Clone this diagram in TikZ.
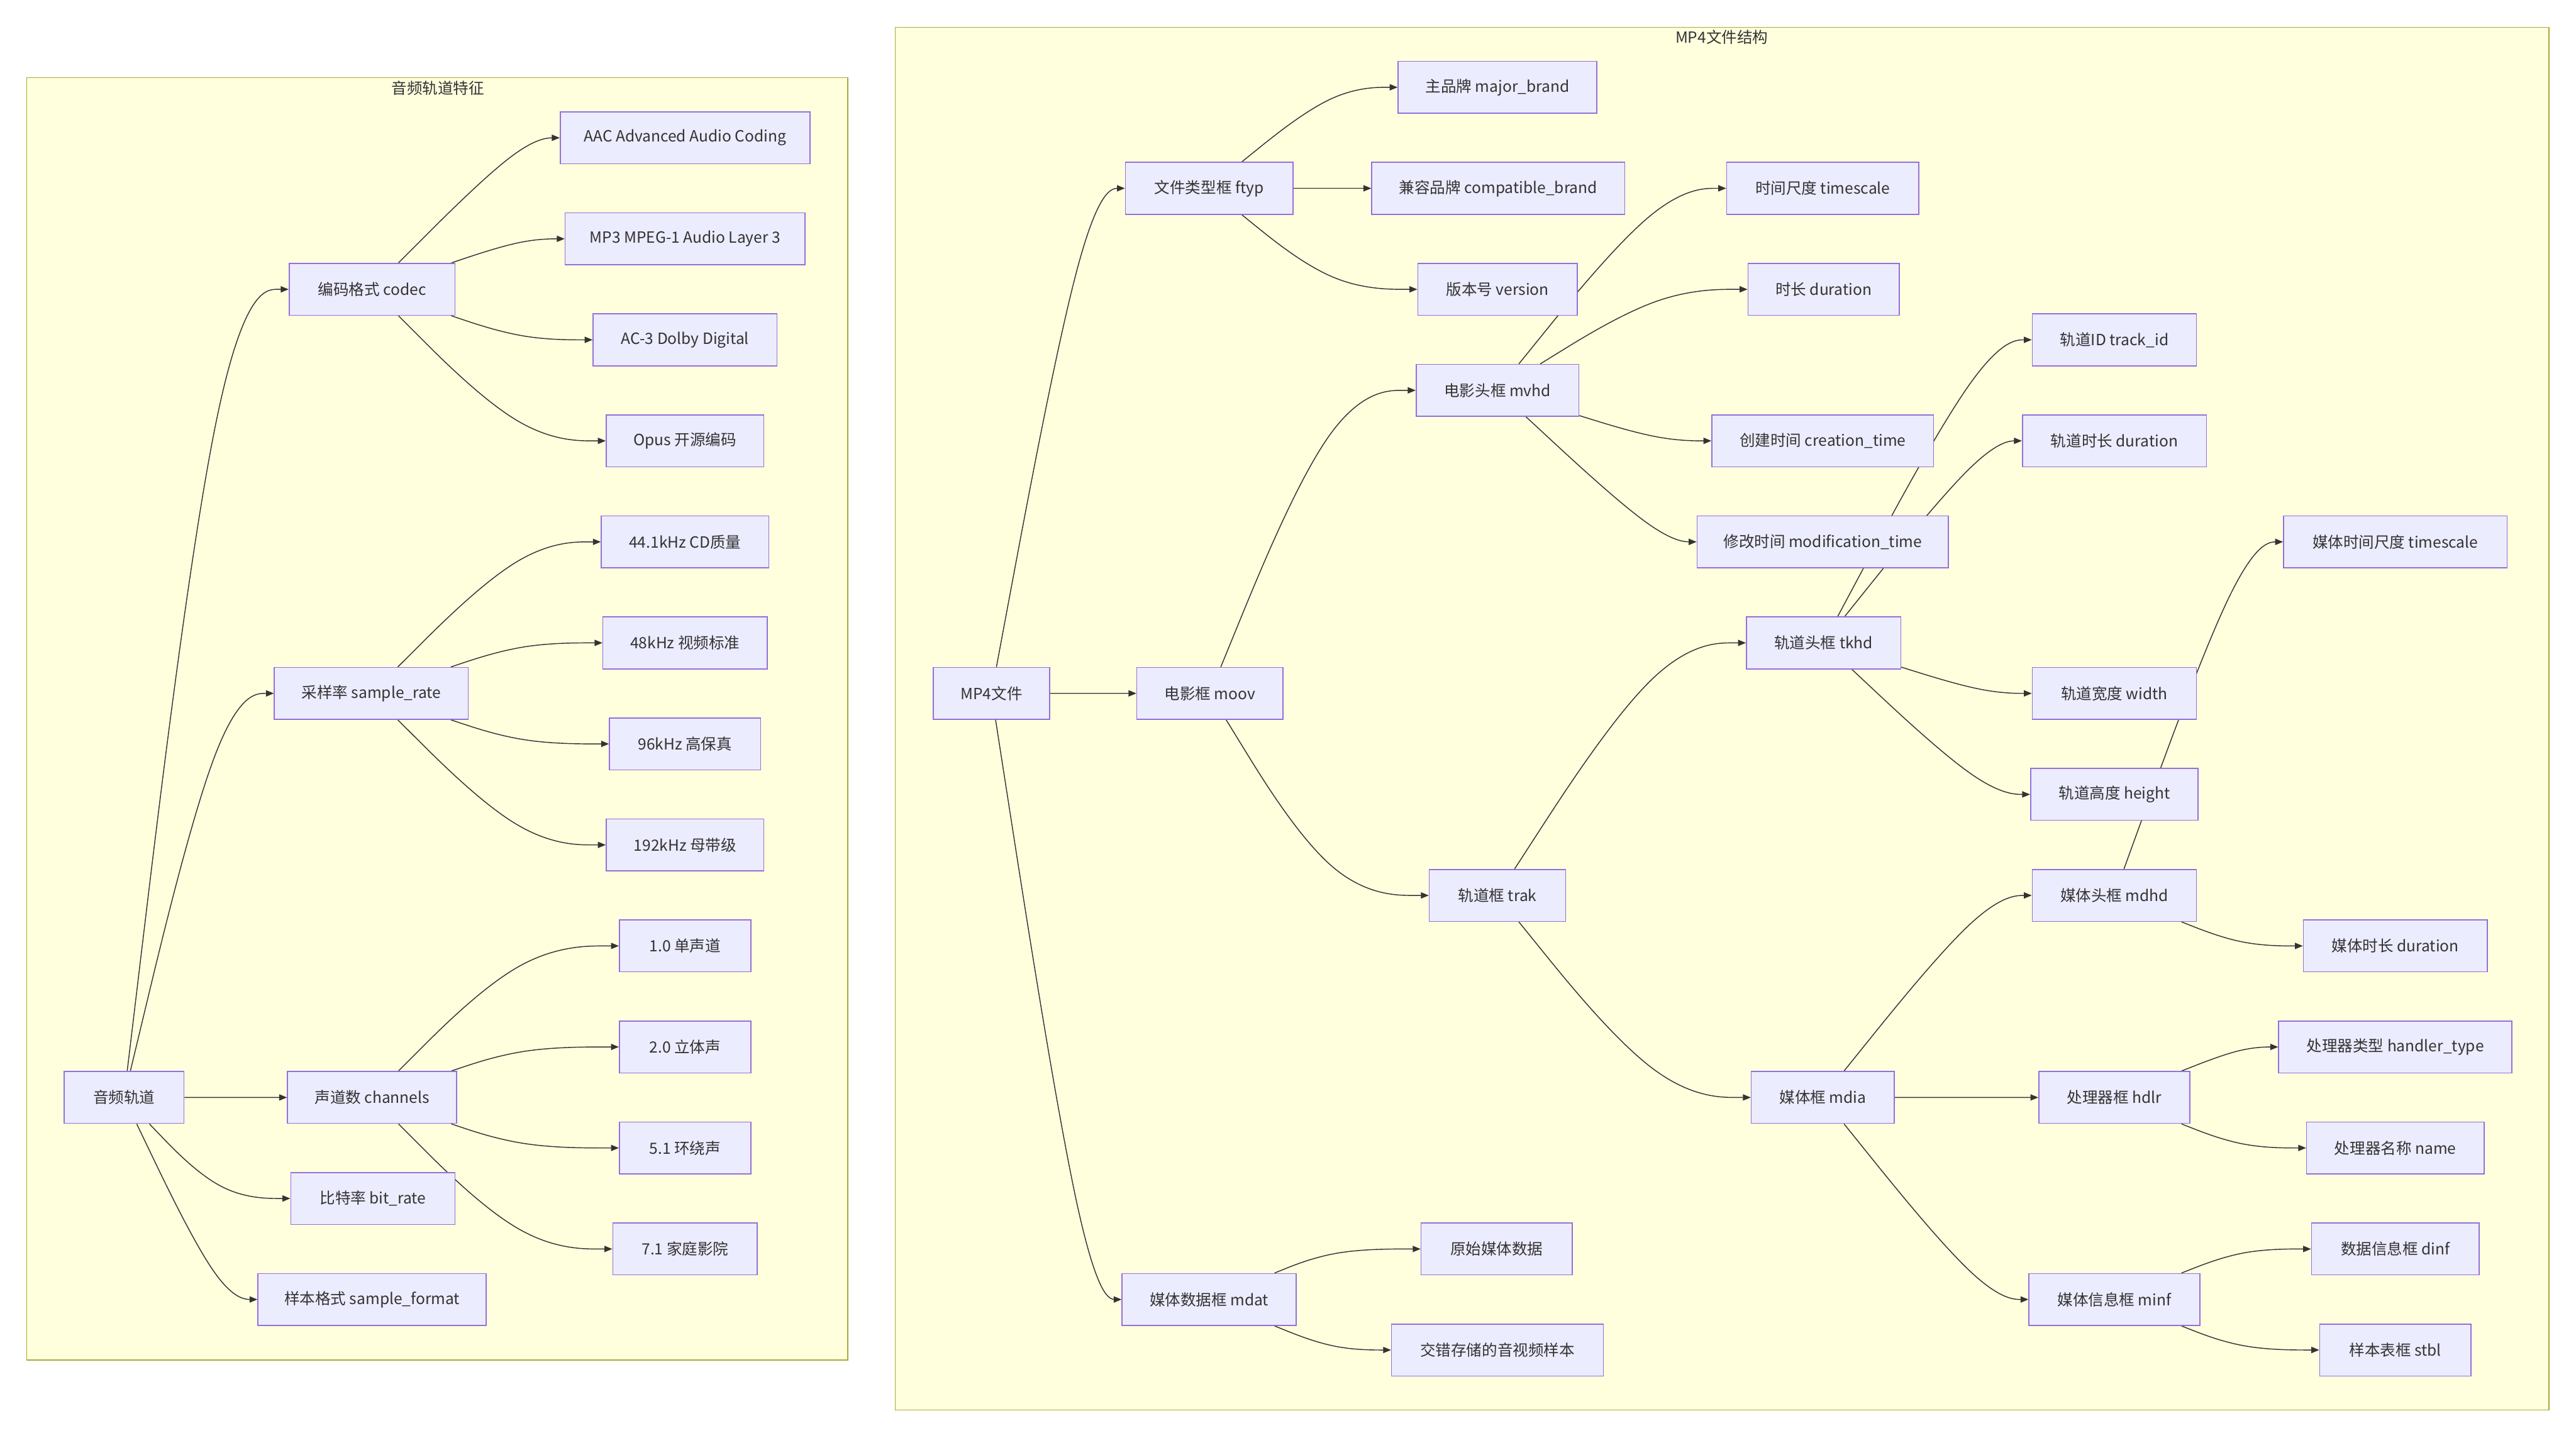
\documentclass[tikz,border=0pt]{standalone}
\usepackage{fontspec}
\setmainfont{Noto Sans CJK SC}
\usetikzlibrary{calc,arrows.meta}
\pgfdeclarelayer{clus}\pgfdeclarelayer{edges}
\pgfsetlayers{clus,edges,main}
\definecolor{nodefill}{HTML}{ECECFF}
\definecolor{nodeline}{HTML}{9370DB}
\definecolor{clfill}{HTML}{FFFFDE}
\definecolor{clline}{HTML}{AAAA33}
\definecolor{ink}{HTML}{333333}
\tikzset{
 box/.style={draw=nodeline, fill=nodefill, line width=0.6pt, minimum height=31.6pt, inner xsep=2pt, inner ysep=0pt, font=\fontsize{9.4}{11}\selectfont, text=ink},
 link/.style={draw=ink, line width=0.55pt, -{Triangle[length=4.8pt,width=3.8pt]}},
 clusbox/.style={fill=clfill, draw=clline, line width=0.45pt},
 clustitle/.style={font=\fontsize{9.4}{11}\selectfont, text=ink, inner sep=0pt},
}
\newcommand\bx[5]{\node[box, minimum width=#4pt] (#1) at (#2,#3) {#5};}
\newcommand\lnk[3]{%
 \path (#3.west) coordinate (Q2);
 \path (#2,0) coordinate (Qt);
 \path (Qt |- Q2) coordinate (Q1);
 \path (#1) -- (Q1) coordinate[pos=0] (Q0);
 \draw[link] (Q0) -- ($(Q0)!1/6!(Q1)$) .. controls ($(Q0)!1/3!(Q1)$) and ($(Q0)!2/3!(Q1)$) .. ($1/6*(Q0)+4/6*(Q1)+1/6*(Q2)$) .. controls ($(Q1)!1/3!(Q2)$) and ($(Q1)!2/3!(Q2)$) .. ($(Q1)!5/6!(Q2)$) -- (Q2);
}
\begin{document}
\begin{tikzpicture}[x=1pt,y=-1pt]
\begin{pgfonlayer}{clus}
\fill[white] (0,0) rectangle (1568,875.2);
\draw[clusbox] (16.3,47.3) rectangle (516,828);
\draw[clusbox] (545,16.5) rectangle (1551.5,858.4);
\end{pgfonlayer}
\useasboundingbox (0,0) rectangle (1568,875.2);
\node[clustitle] (t1) at (266.5,53.7) {音频轨道特征};
\node[clustitle] (t2) at (1048,22.8) {MP4文件结构};
% left cluster
\bx{audio}{75.5}{668.15}{73}{音频轨道}
\bx{codec}{226.5}{176.15}{101}{编码格式 codec}
\bx{srate}{226}{422.15}{118}{采样率 sample\_rate}
\bx{chan}{226.5}{668.15}{103}{声道数 channels}
\bx{brate}{227}{729.65}{100}{比特率 bit\_rate}
\bx{sfmt}{226.5}{791.15}{139}{样本格式 sample\_format}
\bx{aac}{417}{83.9}{152}{AAC Advanced Audio Coding}
\bx{mp3}{417}{145.4}{146}{MP3 MPEG-1 Audio Layer 3}
\bx{ac3}{417}{206.9}{112}{AC-3 Dolby Digital}
\bx{opus}{417}{268.4}{96}{Opus 开源编码}
\bx{k44}{417}{329.9}{102}{44.1kHz CD质量}
\bx{k48}{417}{391.4}{100}{48kHz 视频标准}
\bx{k96}{417}{452.9}{92}{96kHz 高保真}
\bx{k192}{417}{514.4}{96}{192kHz 母带级}
\bx{c10}{417}{575.9}{80}{1.0 单声道}
\bx{c20}{417}{637.4}{80}{2.0 立体声}
\bx{c51}{417}{698.9}{80}{5.1 环绕声}
\bx{c71}{417}{760.4}{88}{7.1 家庭影院}
% right cluster
\bx{mp4}{603.5}{422.15}{71}{MP4文件}
\bx{ftyp}{736}{114.65}{102}{文件类型框 ftyp}
\bx{moov}{736.5}{422.15}{89}{电影框 moov}
\bx{mdat}{736}{791.15}{106}{媒体数据框 mdat}
\bx{major}{911.5}{53.15}{121}{主品牌 major\_brand}
\bx{compat}{912}{114.65}{154}{兼容品牌 compatible\_brand}
\bx{version}{911.5}{176.15}{97}{版本号 version}
\bx{mvhd}{911.5}{237.65}{99}{电影头框 mvhd}
\bx{trak}{911.5}{545.15}{83}{轨道框 trak}
\bx{raw}{911}{760.4}{92}{原始媒体数据}
\bx{inter}{911.5}{821.9}{129}{交错存储的音视频样本}
\bx{tscale}{1109.5}{114.65}{117}{时间尺度 timescale}
\bx{dur}{1110}{176.15}{92}{时长 duration}
\bx{ctime}{1109.5}{268.4}{135}{创建时间 creation\_time}
\bx{mtime}{1109.5}{329.9}{153}{修改时间 modification\_time}
\bx{tkhd}{1110}{391.4}{94}{轨道头框 tkhd}
\bx{mdia}{1109.5}{668.15}{87}{媒体框 mdia}
\bx{tid}{1287}{206.9}{100}{轨道ID track\_id}
\bx{tdur}{1287}{268.4}{112}{轨道时长 duration}
\bx{twidth}{1287}{422.15}{100}{轨道宽度 width}
\bx{theight}{1287}{483.65}{102}{轨道高度 height}
\bx{mdhd}{1287}{545.15}{100}{媒体头框 mdhd}
\bx{hdlr}{1287}{668.15}{92}{处理器框 hdlr}
\bx{minf}{1287}{791.15}{104}{媒体信息框 minf}
\bx{mts}{1458}{329.9}{136}{媒体时间尺度 timescale}
\bx{mdur}{1458}{575.9}{112}{媒体时长 duration}
\bx{htype}{1458}{637.4}{142}{处理器类型 handler\_type}
\bx{hname}{1458}{698.9}{108}{处理器名称 name}
\bx{dinf}{1458}{760.4}{102}{数据信息框 dinf}
\bx{stbl}{1458}{821.9}{92}{样本表框 stbl}
\begin{pgfonlayer}{edges}
\lnk{audio}{134.5}{codec}
\lnk{audio}{134.5}{srate}
\lnk{audio}{134.5}{chan}
\lnk{audio}{134.5}{brate}
\lnk{audio}{134.5}{sfmt}
\lnk{codec}{318.5}{aac}
\lnk{codec}{318.5}{mp3}
\lnk{codec}{318.5}{ac3}
\lnk{codec}{318.5}{opus}
\lnk{srate}{318.5}{k44}
\lnk{srate}{318.5}{k48}
\lnk{srate}{318.5}{k96}
\lnk{srate}{318.5}{k192}
\lnk{chan}{318.5}{c10}
\lnk{chan}{318.5}{c20}
\lnk{chan}{318.5}{c51}
\lnk{chan}{318.5}{c71}
\lnk{mp4}{661}{ftyp}
\lnk{mp4}{661}{moov}
\lnk{mp4}{661}{mdat}
\lnk{ftyp}{812}{major}
\lnk{ftyp}{812}{compat}
\lnk{ftyp}{812}{version}
\lnk{moov}{812}{mvhd}
\lnk{moov}{812}{trak}
\lnk{mdat}{812}{raw}
\lnk{mdat}{812}{inter}
\lnk{mvhd}{1011}{tscale}
\lnk{mvhd}{1011}{dur}
\lnk{mvhd}{1011}{ctime}
\lnk{mvhd}{1011}{mtime}
\lnk{trak}{1011}{tkhd}
\lnk{trak}{1011}{mdia}
\lnk{tkhd}{1208.5}{tid}
\lnk{tkhd}{1208.5}{tdur}
\lnk{tkhd}{1208.5}{twidth}
\lnk{tkhd}{1208.5}{theight}
\lnk{mdia}{1208.5}{mdhd}
\lnk{mdia}{1208.5}{hdlr}
\lnk{mdia}{1208.5}{minf}
\lnk{mdhd}{1365}{mts}
\lnk{mdhd}{1365}{mdur}
\lnk{hdlr}{1365}{htype}
\lnk{hdlr}{1365}{hname}
\lnk{minf}{1365}{dinf}
\lnk{minf}{1365}{stbl}
\end{pgfonlayer}
\end{tikzpicture}
\end{document}
